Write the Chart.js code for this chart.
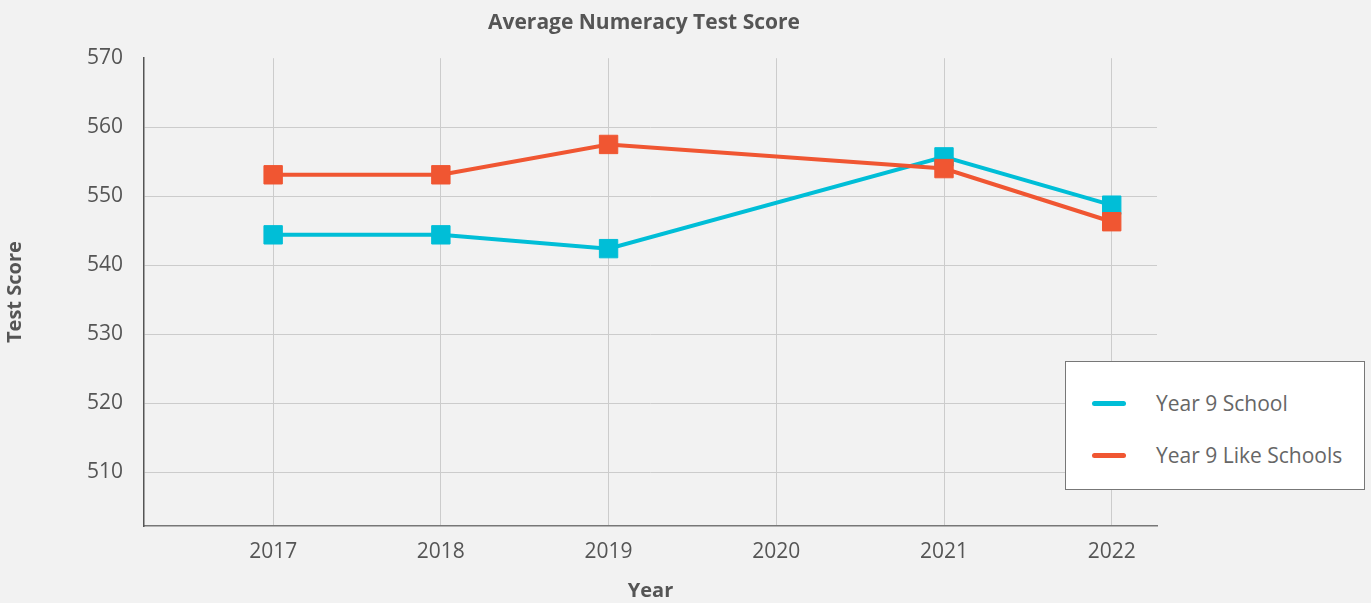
<!DOCTYPE html>
<html>
<head>
<meta charset="utf-8">
<script src="https://cdn.jsdelivr.net/npm/chart.js@4/dist/chart.umd.min.js"></script>
<style>
    body { margin: 0; background: #f2f2f2; font-family: "Open Sans", sans-serif; }
    #wrap { position: relative; width: 1371px; height: 603px; }
    #legend {
        position: absolute; left: 1065px; top: 361px; width: 298px; height: 127px;
        background: #fff; border: 1.5px solid #777;
    }
    .item { position: absolute; left: 26px; height: 26px; line-height: 26px; font-size: 21px; color: #666; }
    .swatch { position: absolute; left: 0; top: 11px; width: 34px; height: 5px; border-radius: 3px; }
    .item span { position: absolute; left: 64px; white-space: nowrap; }
</style>
</head>
<body>
<div id="wrap">
    <canvas id="scoreChart" width="1288" height="603"></canvas>
    <div id="legend"></div>
</div>
<script>
// chart data
const years = [2017, 2018, 2019, 2020, 2021, 2022];
const schoolScores = [544.4, 544.4, 542.4, null, 555.7, 548.7];
const likeSchoolScores = [553.1, 553.1, 557.5, null, 554.0, 546.3];
const yTicks = [510, 520, 530, 540, 550, 560, 570];

const cyan = 'rgb(0, 190, 215)';
const orange = 'rgb(240, 86, 50)';

function toPoints(values) {
    return years.map(function(yr, i) {
        return {x: yr, y: values[i]};
    });
}

function lineSet(label, values, color, order) {
    return {
        label: label,
        data: toPoints(values),
        borderColor: color,
        backgroundColor: color,
        borderWidth: 4,
        pointStyle: 'rect',
        pointRadius: 13,
        pointBorderWidth: 1,
        spanGaps: true,
        order: order
    };
}

const datasets = [
    lineSet('Year 9 School', schoolScores, cyan, 2),
    lineSet('Year 9 Like Schools', likeSchoolScores, orange, 1)
];

const ctx = document.getElementById('scoreChart').getContext('2d');
const scoreChart = new Chart(ctx, {
    type: 'line',
    data: {datasets: datasets},
    options: {
        responsive: false,
        animation: false,
        layout: {padding: 0},
        plugins: {
            legend: {display: false},
            tooltip: {enabled: false},
            title: {
                display: true,
                text: 'Average Numeracy Test Score',
                color: '#555',
                font: {family: 'Open Sans', size: 21, weight: 'bold'},
                padding: {top: 10, bottom: 23}
            }
        },
        scales: {
            x: {
                type: 'linear',
                min: 2016.23,
                max: 2022.27,
                afterBuildTicks: function(axis) {
                    axis.ticks = years.map(function(v) { return {value: v}; });
                },
                afterFit: function(axis) { axis.height = 77; },
                ticks: {
                    color: '#555',
                    font: {family: 'Open Sans', size: 21},
                    padding: 13,
                    callback: function(v) { return String(v); }
                },
                grid: {color: '#cccccc', lineWidth: 1, drawTicks: false},
                border: {color: '#777', width: 1.5},
                title: {
                    display: true,
                    text: 'Year',
                    color: '#555',
                    font: {family: 'Open Sans', size: 20, weight: 'bold'},
                    padding: {top: 0, bottom: 0}
                }
            },
            y: {
                min: 502.2,
                max: 570,
                afterBuildTicks: function(axis) {
                    axis.ticks = yTicks.map(function(v) { return {value: v}; });
                },
                afterFit: function(axis) { axis.width = 144; },
                ticks: {
                    color: '#555',
                    font: {family: 'Open Sans', size: 21},
                    padding: 21
                },
                grid: {
                    drawTicks: false,
                    lineWidth: 1,
                    // no line at the top edge
                    color: function(c) { return c.tick && c.tick.value === 570 ? 'rgba(0,0,0,0)' : '#cccccc'; }
                },
                border: {color: '#555', width: 1.5},
                title: {
                    display: true,
                    text: 'Test Score',
                    color: '#555',
                    font: {family: 'Open Sans', size: 20, weight: 'bold'},
                    padding: {top: 3, bottom: 0}
                }
            },
            // empty right axis, only keeps space so the title centres like the original
            yRight: {
                position: 'right',
                display: true,
                afterFit: function(axis) { axis.width = 131; },
                ticks: {display: false},
                grid: {display: false},
                border: {display: false}
            }
        }
    }
});

// html legend box, in the order of the original
const legend = document.getElementById('legend');
datasets.forEach(function(ds, i) {
    const item = document.createElement('div');
    item.className = 'item';
    item.style.top = (28 + i * 52) + 'px';
    item.innerHTML = '<div class="swatch" style="background:' + ds.borderColor + '"></div><span>' + ds.label + '</span>';
    legend.appendChild(item);
});
</script>
</body>
</html>
